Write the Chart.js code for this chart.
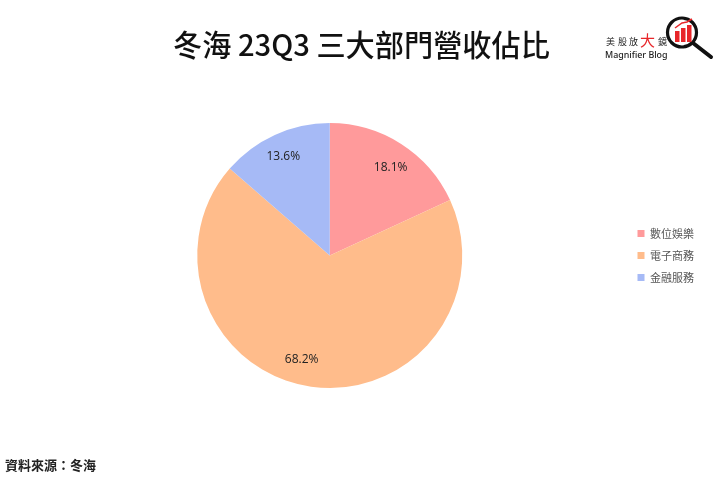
<!DOCTYPE html>
<html lang="zh-Hant">
<head>
<meta charset="utf-8">
<script src="https://cdn.jsdelivr.net/npm/chart.js@4"></script>
<style>
html,body{margin:0;padding:0;background:#fff;width:720px;height:479px;overflow:hidden}
#wrap{position:relative;width:720px;height:479px}
#title{position:absolute;left:173px;top:23px;font:500 29.2px/40px "Noto Sans CJK TC";color:#111;white-space:nowrap}
#source{position:absolute;left:5px;top:456px;font:700 13px "Noto Sans CJK TC";color:#222;line-height:18px;white-space:nowrap}
#logo{position:absolute;left:600px;top:8px}
</style>
</head>
<body>
<div id="wrap">
<canvas id="c" width="720" height="479"></canvas>
<div id="title"></div>
<div id="source">資料來源：冬海</div>
<svg id="logo" width="120" height="56" viewBox="600 8 120 56" xmlns="http://www.w3.org/2000/svg">
  <text x="606" y="45" font-family="Noto Sans CJK TC" font-size="9" fill="#222">美</text>
  <text x="618" y="45" font-family="Noto Sans CJK TC" font-size="9" fill="#222">股</text>
  <text x="629" y="45" font-family="Noto Sans CJK TC" font-size="9" fill="#222">放</text>
  <text x="640" y="46" font-family="Noto Sans CJK TC" font-size="15" fill="#e8262a">大</text>
  <text x="658" y="45" font-family="Noto Sans CJK TC" font-size="9" fill="#222">鏡</text>
  <text x="605" y="58" font-family="Noto Sans" font-size="8.9" font-weight="500" fill="#222">Magnifier Blog</text>
  <circle cx="682" cy="32.5" r="14.5" fill="#fff" stroke="#111" stroke-width="3.2"/>
  <line x1="693" y1="43" x2="711" y2="57" stroke="#111" stroke-width="4" stroke-linecap="round"/>
  <rect x="675" y="31" width="4.5" height="11" fill="#e8262a"/>
  <rect x="681" y="28" width="4.5" height="14" fill="#e8262a"/>
  <rect x="687" y="25" width="4.5" height="17" fill="#e8262a"/>
  <polyline points="675,28 682,23 687,22 692,19" fill="none" stroke="#e8262a" stroke-width="1.5"/>
</svg>
</div>
<script>
const categories = ["數位娛樂", "電子商務", "金融服務"];
const shares = [18.1, 68.2, 13.6];
const sliceColors = ["#ff9a9b", "#ffbc8b", "#a6baf6"];
const chartTitle = "冬海 23Q3 三大部門營收佔比";
document.getElementById("title").textContent = chartTitle;

const labelNudge = [[3, 2], [-13, -2], [-2, -1]];
const pctLabels = {
  id: "pctLabels",
  afterDatasetsDraw(chart) {
    const ctx = chart.ctx;
    ctx.save();
    ctx.font = '12px "Open Sans", "Noto Sans CJK TC"';
    ctx.fillStyle = "#222";
    ctx.textAlign = "center";
    ctx.textBaseline = "middle";
    chart.getDatasetMeta(0).data.forEach((arc, i) => {
      const mid = (arc.startAngle + arc.endAngle) / 2;
      const r = arc.outerRadius * 0.81;
      ctx.fillText(shares[i].toFixed(1) + "%",
        arc.x + Math.cos(mid) * r + labelNudge[i][0],
        arc.y + Math.sin(mid) * r + labelNudge[i][1]);
    });
    ctx.restore();
  }
};

new Chart(document.getElementById("c"), {
  type: "pie",
  data: {
    labels: categories,
    datasets: [{ data: shares, backgroundColor: sliceColors, borderWidth: 0 }]
  },
  options: {
    responsive: false,
    animation: false,
    layout: { padding: { left: 33, right: 16, top: 123, bottom: 91 } },
    plugins: {
      tooltip: { enabled: false },
      title: { display: false },
      legend: {
        position: "right",
        labels: {
          boxWidth: 7,
          boxHeight: 7,
          padding: 11,
          color: "#555",
          font: { family: '"Noto Sans CJK TC"', size: 11 }
        }
      }
    }
  },
  plugins: [pctLabels]
});
</script>
</body>
</html>
